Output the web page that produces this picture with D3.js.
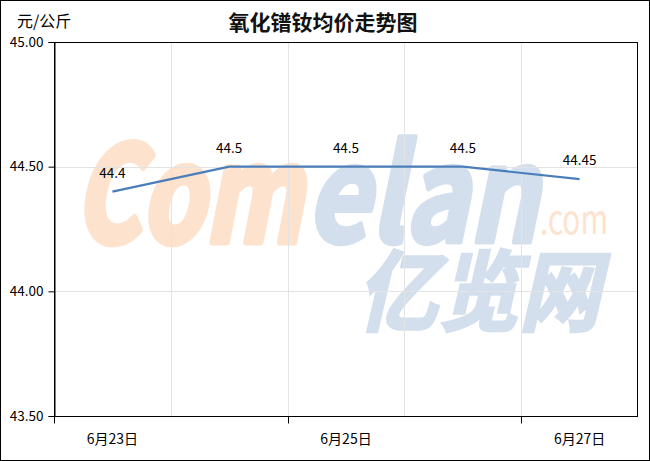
<!DOCTYPE html>
<html><head><meta charset="utf-8">
<script src="https://cdn.jsdelivr.net/npm/d3@7/dist/d3.min.js"></script>
<style>
html,body{margin:0;padding:0;background:#fff;}
svg{display:block;}
text{font-family:"Noto Sans CJK SC","Noto Sans",sans-serif;}
</style></head>
<body>
<script>
const title = "氧化镨钕均价走势图";
const unit = "元/公斤";
const categories = ["6月23日","6月24日","6月25日","6月26日","6月27日"];
const values = [44.4, 44.5, 44.5, 44.5, 44.45];
const labels = ["44.4","44.5","44.5","44.5","44.45"];
const yTicks = [43.5, 44.0, 44.5, 45.0];
const shownCats = ["6月23日","6月25日","6月27日"];

const W = 650, H = 461;
const m = {left:54, right:12, top:42, bottom:45};
const svg = d3.select("body").append("svg").attr("width",W).attr("height",H);
svg.append("rect").attr("x",0.5).attr("y",0.5).attr("width",W-1).attr("height",H-1)
  .attr("fill","#fff").attr("stroke","#000").attr("stroke-width",1);

const x = d3.scaleBand().domain(categories).range([m.left, W-m.right]).padding(0);
const y = d3.scaleLinear().domain([43.5,45]).range([H-m.bottom, m.top]);

// watermark
const wm = svg.append("g");
wm.append("text").attr("x",74).attr("y",242).text("Com")
  .attr("font-family","DejaVu Sans").attr("font-weight","bold").attr("font-style","italic")
  .attr("font-size",132).attr("fill","#fde2cd").attr("stroke","#fde2cd").attr("stroke-width",7)
  .attr("stroke-linejoin","round")
  .attr("textLength",228).attr("lengthAdjust","spacingAndGlyphs");
wm.append("text").attr("x",306).attr("y",242).text("elan")
  .attr("font-family","DejaVu Sans").attr("font-weight","bold").attr("font-style","italic")
  .attr("font-size",132).attr("fill","#d4dfed").attr("stroke","#d4dfed").attr("stroke-width",5)
  .attr("stroke-linejoin","round")
  .attr("textLength",232).attr("lengthAdjust","spacingAndGlyphs");
wm.append("text").attr("x",540).attr("y",234).text(".com")
  .attr("font-family","Liberation Sans").attr("font-size",40).attr("fill","#fde2cd")
  .attr("textLength",68).attr("lengthAdjust","spacingAndGlyphs");
wm.append("text").attr("x",357).attr("y",324).text("亿览网")
  .attr("font-weight","bold").attr("font-style","italic")
  .attr("font-size",88).attr("fill","#d4dfed").attr("stroke","#d4dfed").attr("stroke-width",3)
  .attr("textLength",243).attr("lengthAdjust","spacingAndGlyphs");

// gridlines
const grid = svg.append("g");
grid.selectAll(".hg").data(yTicks.filter(d=>d>43.5 && d<45)).enter().append("line")
  .attr("x1",m.left).attr("x2",W-m.right).attr("y1",d=>Math.round(y(d))+0.5).attr("y2",d=>Math.round(y(d))+0.5)
  .attr("stroke","#e3e3e3");
grid.selectAll(".vg").data(categories.slice(1)).enter().append("line")
  .attr("x1",d=>Math.round(x(d))+0.5).attr("x2",d=>Math.round(x(d))+0.5).attr("y1",m.top).attr("y2",H-m.bottom)
  .attr("stroke","#e3e3e3");

// plot border
svg.append("rect").attr("x",m.left+0.5).attr("y",m.top+0.5)
  .attr("width",W-m.right-m.left-1).attr("height",H-m.bottom-m.top).attr("fill","none").attr("stroke","#000");

// y axis
const yAxis = svg.append("g").attr("transform",`translate(${m.left+0.5},0)`)
  .call(d3.axisLeft(y).tickValues(yTicks).tickFormat(d3.format(".2f")).tickSize(6).tickPadding(5));
yAxis.select(".domain").attr("stroke","#000");
yAxis.selectAll("text").attr("font-size",13.5).attr("fill","#000").attr("font-family","Noto Sans, sans-serif");

// x axis ticks at every other boundary
const xAxisG = svg.append("g").attr("transform",`translate(0,${H-m.bottom+0.5})`);
const tickPos = [categories[0], categories[2], categories[4]].map(c=>Math.round(x(c))+0.5);
xAxisG.selectAll("line").data(tickPos).enter().append("line")
  .attr("x1",d=>d).attr("x2",d=>d).attr("y1",0).attr("y2",7).attr("stroke","#000");
xAxisG.selectAll("text").data(shownCats).enter().append("text")
  .attr("x",d=>x(d)+x.bandwidth()/2).attr("y",27).attr("text-anchor","middle")
  .attr("font-size",14).attr("fill","#000").text(d=>d);

// line
const line = d3.line().x((d,i)=>x(categories[i])+x.bandwidth()/2).y(d=>y(d));
svg.append("path").datum(values).attr("d",line).attr("fill","none")
  .attr("stroke","#4a7ebb").attr("stroke-width",2.2);

// data labels
svg.selectAll(".lbl").data(values).enter().append("text")
  .attr("x",(d,i)=>x(categories[i])+x.bandwidth()/2).attr("y",d=>y(d)-14)
  .attr("text-anchor","middle").attr("font-size",13.5).attr("fill","#000")
  .attr("font-family","Noto Sans, sans-serif")
  .text((d,i)=>labels[i]);

// title & unit
svg.append("text").attr("x",323).attr("y",30).attr("text-anchor","middle")
  .attr("font-size",21).attr("font-weight","bold").attr("fill","#111").text(title);
svg.append("text").attr("x",17).attr("y",27).attr("font-size",16).attr("fill","#000").text(unit);
</script>
</body></html>
